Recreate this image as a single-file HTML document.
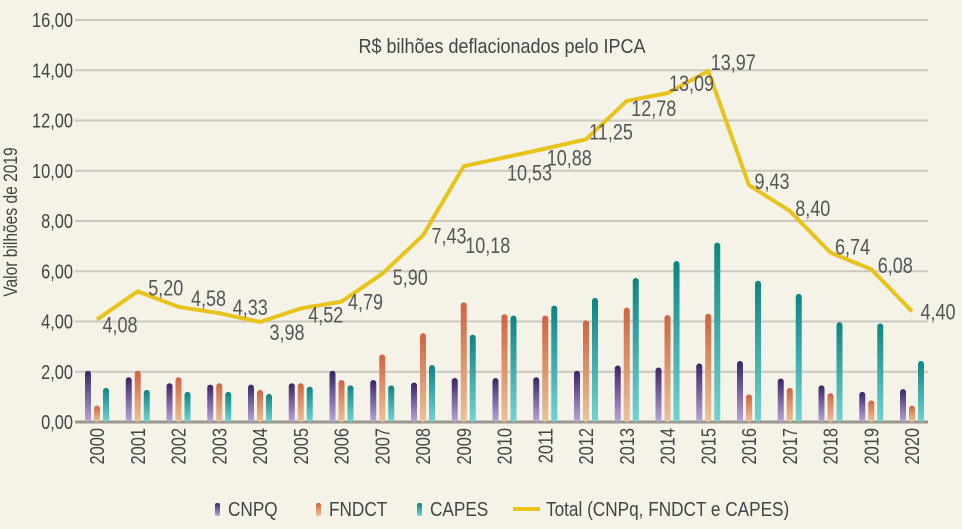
<!DOCTYPE html>
<html><head><meta charset="utf-8"><style>
html,body{margin:0;padding:0;background:#f5f2e8;}
svg{display:block;font-family:"Liberation Sans Narrow","Liberation Sans",sans-serif;}
</style></head><body>
<svg id="c" width="962" height="529" viewBox="0 0 962 529" xmlns="http://www.w3.org/2000/svg">
<defs>
<linearGradient id="gp" x1="0" y1="0" x2="0" y2="1"><stop offset="0" stop-color="#3a2466"/><stop offset="1" stop-color="#b8a6da"/></linearGradient>
<linearGradient id="go" x1="0" y1="0" x2="0" y2="1"><stop offset="0" stop-color="#cf6440"/><stop offset="1" stop-color="#eac39c"/></linearGradient>
<linearGradient id="gt" x1="0" y1="0" x2="0" y2="1"><stop offset="0" stop-color="#0b8583"/><stop offset="1" stop-color="#72d3d3"/></linearGradient>
</defs>
<g id="grid"></g><g id="bars"></g><g id="line"></g><g id="labels"></g>
<text transform="translate(502,53) scale(0.9,1)" text-anchor="middle" font-size="20" fill="#444">R$ bilhões deflacionados pelo IPCA</text>
<text transform="translate(17,222) rotate(-90) scale(0.82,1)" text-anchor="middle" font-size="19" fill="#444">Valor  bilhões de 2019</text>
<g>
<rect x="215" y="503" width="5" height="13" rx="2" fill="url(#gp)"/>
<text transform="translate(228,516) scale(0.86,1)" font-size="20" fill="#444">CNPQ</text>
<rect x="316" y="503" width="5" height="13" rx="2" fill="url(#go)"/>
<text transform="translate(329,516) scale(0.86,1)" font-size="20" fill="#444">FNDCT</text>
<rect x="417" y="503" width="5" height="13" rx="2" fill="url(#gt)"/>
<text transform="translate(430,516) scale(0.86,1)" font-size="20" fill="#444">CAPES</text>
<line x1="513" y1="509" x2="540" y2="509" stroke="#e8c31c" stroke-width="4"/>
<text transform="translate(546,516) scale(0.86,1)" font-size="20" fill="#444">Total (CNPq, FNDCT e CAPES)</text>
</g>
</svg>
<script>
const years=["2000","2001","2002","2003","2004","2005","2006","2007","2008","2009","2010","2011","2012","2013","2014","2015","2016","2017","2018","2019","2020"];
const cnpq=[2.04,1.78,1.54,1.49,1.49,1.54,2.04,1.67,1.57,1.75,1.75,1.78,2.04,2.25,2.17,2.33,2.43,1.73,1.46,1.20,1.31];
const fndct=[0.65,2.04,1.78,1.54,1.28,1.54,1.67,2.69,3.53,4.76,4.29,4.24,4.05,4.55,4.26,4.31,1.10,1.36,1.15,0.86,0.65];
const capes=[1.36,1.28,1.20,1.20,1.12,1.41,1.46,1.46,2.27,3.48,4.24,4.63,4.94,5.73,6.41,7.14,5.62,5.10,3.97,3.92,2.43];
const total=[4.08,5.20,4.58,4.33,3.98,4.52,4.79,5.90,7.43,10.18,10.53,10.88,11.25,12.78,13.09,13.97,9.43,8.40,6.74,6.08,4.40];
const yTicks=[0,2,4,6,8,10,12,14,16];
const labelOff=[[23,13],[28,4],[30,-1],[31,2],[27,18],[25,14],[24,8],[28,11],[26,8],[24,87],[25,23],[24,17],[25,0],[27,15],[24,-2],[25,-1],[23,4],[23,5],[22,2],[24,4],[26,8]];
const NS="http://www.w3.org/2000/svg";
const y=v=>422-v*25.125;
const x=i=>97+i*40.75;
const fmt=v=>v.toFixed(2).replace('.',',');
function mk(p,t,a){const e=document.createElementNS(NS,t);for(const k in a)e.setAttribute(k,a[k]);p.appendChild(e);return e;}
const grid=document.getElementById('grid');
yTicks.forEach(t=>{
  const l=mk(grid,'line',{x1:75,x2:928,y1:y(t),y2:y(t),stroke:t===0?'#9a978f':'#cbc8c0','stroke-width':t===0?3:2});
  
  
  const tx=mk(grid,'text',{transform:`translate(73,${y(t)+7}) scale(0.82,1)`,'text-anchor':'end','font-size':20,fill:'#444'});
  tx.textContent=fmt(t);
  
  
});
years.forEach((yr,i)=>{
  const tx=mk(grid,'text',{transform:`translate(${x(i)+7},428) rotate(-90) scale(0.82,1)`,'text-anchor':'end','font-size':20,fill:'#444'});
  tx.textContent=yr;
  
  
});
const bars=document.getElementById('bars');
[[cnpq,'url(#gp)',-9,'cnpq'],[fndct,'url(#go)',0,'fndct'],[capes,'url(#gt)',9,'capes']].forEach(([arr,fill,off,nm])=>{
  arr.forEach((v,i)=>{
    const r=mk(bars,'rect',{x:x(i)+off-3,y:y(v),width:6,height:422-y(v),rx:3,fill:fill});
    
    
  });
});
const lg=document.getElementById('line');
const pl=mk(lg,'polyline',{points:total.map((v,i)=>x(i)+','+y(v)).join(' '),fill:'none',stroke:'#e8c31c','stroke-width':4,'stroke-linejoin':'round'});


const lb=document.getElementById('labels');
total.forEach((v,i)=>{
  const o=labelOff[i];
  const tx=mk(lb,'text',{transform:`translate(${x(i)+o[0]},${y(v)+o[1]}) scale(0.82,1)`,'text-anchor':'middle','font-size':22,fill:'#555'});
  tx.textContent=fmt(v);
  
  
});
</script>
</body></html>
